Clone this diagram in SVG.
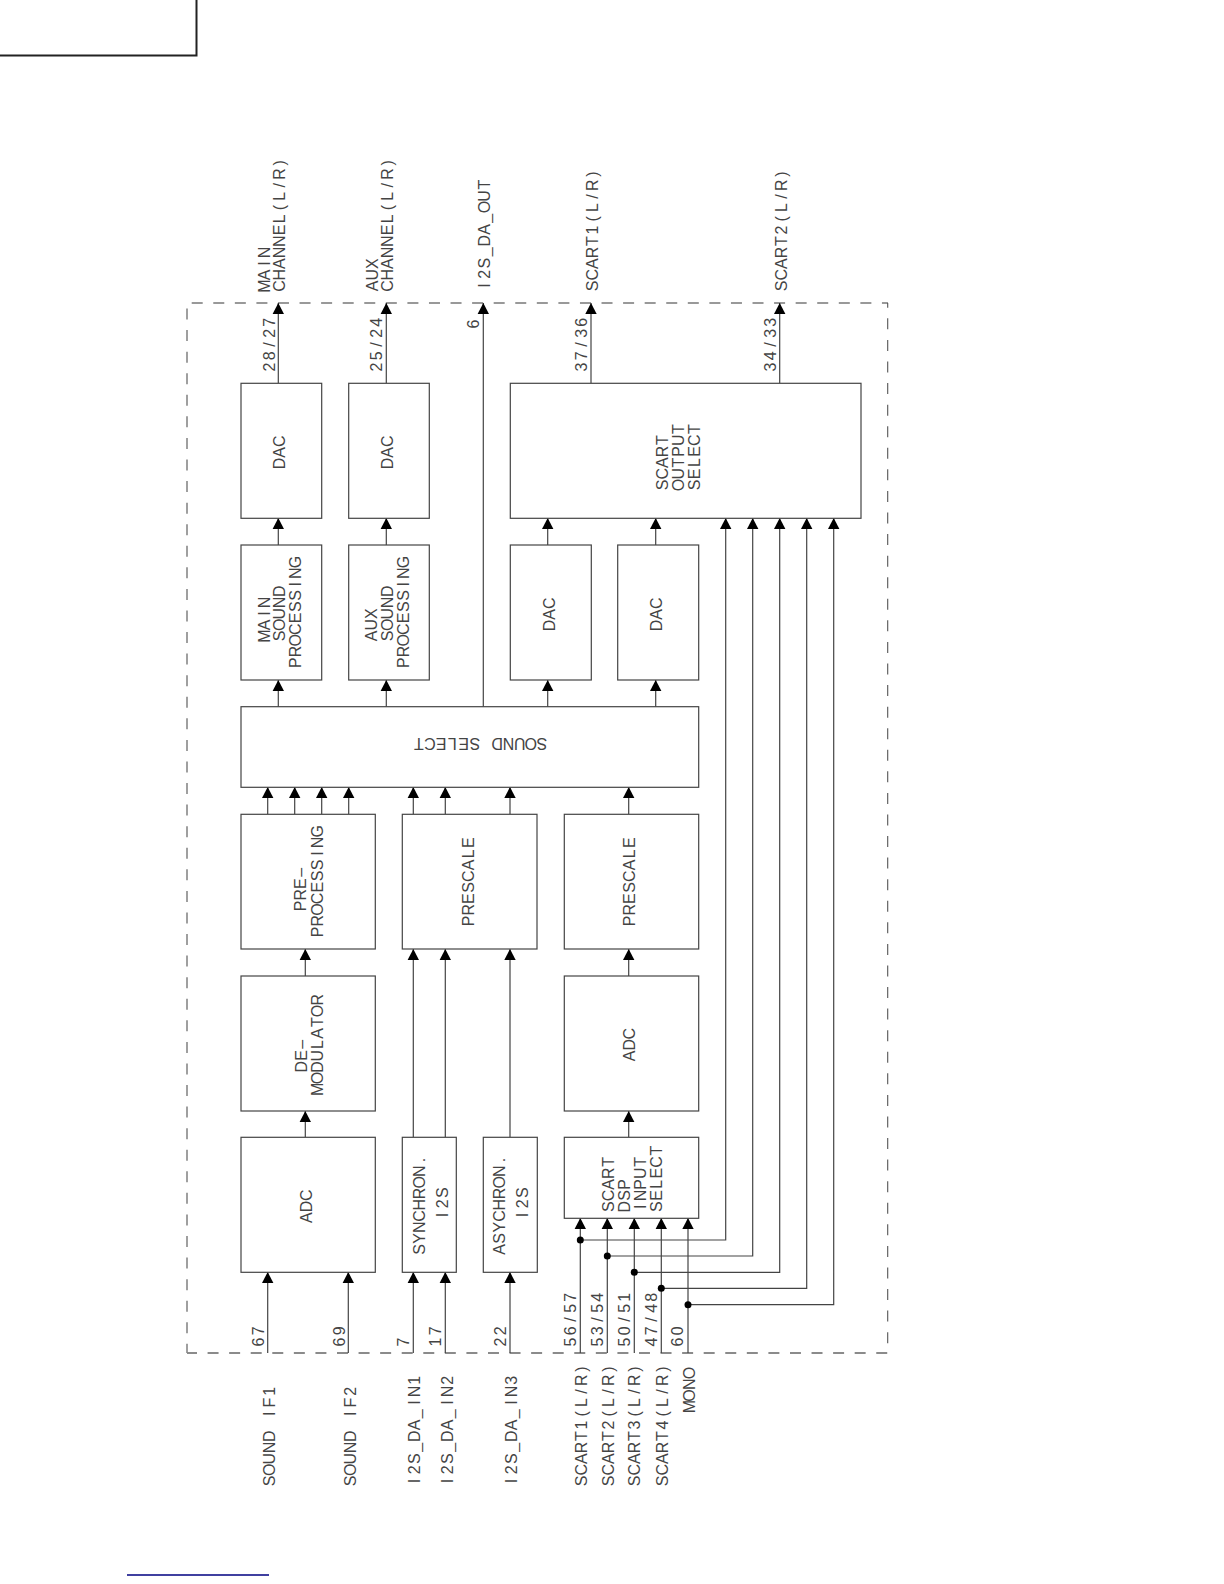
<svg xmlns="http://www.w3.org/2000/svg" width="1224" height="1584" viewBox="0 0 1224 1584">
<defs>
<style>
.b{fill:#fff;stroke:#444;stroke-width:1.2}
.c{fill:none;stroke:#444;stroke-width:1.2}
.t{font-family:"Liberation Sans",Arial,sans-serif;font-size:16px;text-anchor:middle;fill:#444}
.d{fill:#000;stroke:none}
</style>
<path id="ah" d="M0 0L5.700 11H-5.700Z" fill="#000"/>
</defs>
<rect width="1224" height="1584" fill="#fff"/>
<path d="M0 55.500H196.500V0" fill="none" stroke="#222" stroke-width="2"/>
<path d="M127 1575H269" fill="none" stroke="#000080" stroke-width="1.300"/>
<g id="boundary" fill="none" stroke-dasharray="11 10.570">
<path d="M191.700 303H888" stroke="#999" stroke-width="2"/>
<path d="M887.700 303V1353" stroke="#555" stroke-width="1.100" stroke-dashoffset="6.200"/>
<path d="M187 1353H888" stroke="#666" stroke-width="1.300" stroke-dashoffset="1"/>
<path d="M187 308.500V1353" stroke="#888" stroke-width="1.600"/>
</g>
<g id="connectors" class="c">
<path d="M278.300 383V303M386.300 383V303M483.300 707V303M591 383V303M779.700 383V303"/>
<path d="M278.300 545V518M386.300 545V518M547.700 545V518M655.700 545V518"/>
<path d="M278.300 707V680M386.300 707V680M547.700 707V680M655.700 707V680"/>
<path d="M267.700 814V787M294.700 814V787M321.700 814V787M348.700 814V787M413.300 814V787M445.300 814V787M510 814V787M628.700 814V787"/>
<path d="M305.300 976V949M628.700 976V949M305.300 1137V1111M628.700 1137V1111"/>
<path d="M413.300 1137V949M445.300 1137V949M510 1137V949"/>
<path d="M267.700 1353V1272M348.300 1353V1272M413.300 1353V1272M445.300 1353V1272M510 1353V1272"/>
<path d="M580.300 1353V1218M607.300 1353V1218M634.300 1353V1218M661.300 1353V1218M688 1353V1218"/>
<path d="M580.300 1240H725.700V518M607.300 1256H752.700V518M634.300 1272.300H779.700V518M661.300 1288.300H806.700V518M688 1304.700H833.700V518"/>
<circle class="d" cx="580.300" cy="1240" r="3.500"/><circle class="d" cx="607.300" cy="1256" r="3.500"/><circle class="d" cx="634.300" cy="1272.300" r="3.500"/><circle class="d" cx="661.300" cy="1288.300" r="3.500"/><circle class="d" cx="688" cy="1304.700" r="3.500"/>
<g stroke="none">
<use href="#ah" x="278.300" y="303"/><use href="#ah" x="386.300" y="303"/><use href="#ah" x="483.300" y="303"/><use href="#ah" x="591" y="303"/><use href="#ah" x="779.700" y="303"/>
<use href="#ah" x="278.300" y="518"/><use href="#ah" x="386.300" y="518"/><use href="#ah" x="547.700" y="518"/><use href="#ah" x="655.700" y="518"/>
<use href="#ah" x="725.700" y="518"/><use href="#ah" x="752.700" y="518"/><use href="#ah" x="779.700" y="518"/><use href="#ah" x="806.700" y="518"/><use href="#ah" x="833.700" y="518"/>
<use href="#ah" x="278.300" y="680"/><use href="#ah" x="386.300" y="680"/><use href="#ah" x="547.700" y="680"/><use href="#ah" x="655.700" y="680"/>
<use href="#ah" x="267.700" y="787"/><use href="#ah" x="294.700" y="787"/><use href="#ah" x="321.700" y="787"/><use href="#ah" x="348.700" y="787"/><use href="#ah" x="413.300" y="787"/><use href="#ah" x="445.300" y="787"/><use href="#ah" x="510" y="787"/><use href="#ah" x="628.700" y="787"/>
<use href="#ah" x="305.300" y="949"/><use href="#ah" x="413.300" y="949"/><use href="#ah" x="445.300" y="949"/><use href="#ah" x="510" y="949"/><use href="#ah" x="628.700" y="949"/>
<use href="#ah" x="305.300" y="1111"/><use href="#ah" x="628.700" y="1111"/>
<use href="#ah" x="267.700" y="1272"/><use href="#ah" x="348.300" y="1272"/><use href="#ah" x="413.300" y="1272"/><use href="#ah" x="445.300" y="1272"/><use href="#ah" x="510" y="1272"/>
<use href="#ah" x="580.300" y="1218"/><use href="#ah" x="607.300" y="1218"/><use href="#ah" x="634.300" y="1218"/><use href="#ah" x="661.300" y="1218"/><use href="#ah" x="688" y="1218"/>
</g>
</g>
<g id="dac-main"><rect class="b" x="241" y="383.300" width="80.700" height="135"/><text class="t" x="5 16.200 27.400" transform="translate(285 468.500) rotate(-90)">DAC</text></g>
<g id="dac-aux"><rect class="b" x="348.700" y="383.300" width="80.600" height="135"/><text class="t" x="5 16.200 27.400" transform="translate(392.800 468.500) rotate(-90)">DAC</text></g>
<g id="scart-output"><rect class="b" x="510.300" y="383.300" width="350.700" height="135"/><text class="t" x="5 16.200 27.400 38.600 49.800" transform="translate(667.500 490) rotate(-90)">SCART</text><text class="t" x="5 16.200 27.400 38.600 49.800 61" transform="translate(683.700 490) rotate(-90)">OUTPUT</text><text class="t" x="5 16.200 27.400 38.600 49.800 61" transform="translate(699.700 490) rotate(-90)">SELECT</text></g>
<g id="main-sound"><rect class="b" x="241" y="545" width="80.700" height="135"/><text class="t" x="5 16.200 27.400 38.600" transform="translate(269.500 641) rotate(-90)">MAIN</text><text class="t" x="5 16.200 27.400 38.600 49.800" transform="translate(285 641) rotate(-90)">SOUND</text><text class="t" x="5 16.200 27.400 38.600 49.800 61 72.200 83.400 94.600 105.800" transform="translate(301 667.700) rotate(-90)">PROCESSING</text></g>
<g id="aux-sound"><rect class="b" x="348.700" y="545" width="80.600" height="135"/><text class="t" x="5 16.200 27.400" transform="translate(377 641) rotate(-90)">AUX</text><text class="t" x="5 16.200 27.400 38.600 49.800" transform="translate(392.500 641) rotate(-90)">SOUND</text><text class="t" x="5 16.200 27.400 38.600 49.800 61 72.200 83.400 94.600 105.800" transform="translate(409 667.700) rotate(-90)">PROCESSING</text></g>
<g id="dac-3"><rect class="b" x="510.300" y="545" width="81" height="135"/><text class="t" x="5 16.200 27.400" transform="translate(554.500 630.500) rotate(-90)">DAC</text></g>
<g id="dac-4"><rect class="b" x="617.700" y="545" width="81" height="135"/><text class="t" x="5 16.200 27.400" transform="translate(662 630.500) rotate(-90)">DAC</text></g>
<g id="sound-select"><rect class="b" x="241" y="706.700" width="457.700" height="80.600"/><text class="t" x="5 16.200 27.400 38.600 49.800 61 72.200 83.400 94.600 105.800 117 128.200" transform="translate(547 738.300) rotate(180)">SOUND SELECT</text></g>
<g id="preprocessing"><rect class="b" x="241" y="814.300" width="134.300" height="134.700"/><text class="t" x="5 16.200 27.400 38.600" transform="translate(306 911) rotate(-90)">PRE–</text><text class="t" x="5 16.200 27.400 38.600 49.800 61 72.200 83.400 94.600 105.800" transform="translate(322.500 937) rotate(-90)">PROCESSING</text></g>
<g id="prescale-1"><rect class="b" x="402.300" y="814.300" width="134.700" height="134.700"/><text class="t" x="5 16.200 27.400 38.600 49.800 61 72.200 83.400" transform="translate(473.500 926) rotate(-90)">PRESCALE</text></g>
<g id="prescale-2"><rect class="b" x="564.300" y="814.300" width="134.400" height="134.700"/><text class="t" x="5 16.200 27.400 38.600 49.800 61 72.200 83.400" transform="translate(635 926) rotate(-90)">PRESCALE</text></g>
<g id="demodulator"><rect class="b" x="241" y="976" width="134.300" height="135"/><text class="t" x="5 16.200 27.400" transform="translate(306.700 1071.700) rotate(-90)">DE–</text><text class="t" x="5 16.200 27.400 38.600 49.800 61 72.200 83.400 94.600" transform="translate(322.700 1094.300) rotate(-90)">MODULATOR</text></g>
<g id="adc-2"><rect class="b" x="564.300" y="976" width="134.400" height="135"/><text class="t" x="5 16.200 27.400" transform="translate(635 1061) rotate(-90)">ADC</text></g>
<g id="adc-1"><rect class="b" x="241" y="1137.300" width="134.300" height="135"/><text class="t" x="5 16.200 27.400" transform="translate(312.300 1222.700) rotate(-90)">ADC</text></g>
<g id="synchron"><rect class="b" x="402.300" y="1137.300" width="54" height="135"/><text class="t" x="5 16.200 27.400 38.600 49.800 61 72.200 83.400 94.600" transform="translate(425 1254.500) rotate(-90)">SYNCHRON.</text><text class="t" x="5 16.200 27.400" transform="translate(447.500 1220) rotate(-90)">I2S</text></g>
<g id="asychron"><rect class="b" x="483.300" y="1137.300" width="54" height="135"/><text class="t" x="5 16.200 27.400 38.600 49.800 61 72.200 83.400 94.600" transform="translate(505 1254.500) rotate(-90)">ASYCHRON.</text><text class="t" x="5 16.200 27.400" transform="translate(527.700 1220) rotate(-90)">I2S</text></g>
<g id="scart-dsp"><rect class="b" x="564.300" y="1137.300" width="134.400" height="81"/><text class="t" x="5 16.200 27.400 38.600 49.800" transform="translate(613.500 1211.700) rotate(-90)">SCART</text><text class="t" x="5 16.200 27.400" transform="translate(630 1211.700) rotate(-90)">DSP</text><text class="t" x="5 16.200 27.400 38.600 49.800" transform="translate(645.700 1211.700) rotate(-90)">INPUT</text><text class="t" x="5 16.200 27.400 38.600 49.800 61" transform="translate(662 1211.700) rotate(-90)">SELECT</text></g>
<g id="labels">
<text class="t" x="5 16.200 27.400 38.600" transform="translate(269.500 291) rotate(-90)">MAIN</text>
<text class="t" x="5 16.200 27.400 38.600 49.800 61 72.200 83.400 94.600 105.800 117 128.200" transform="translate(285 291) rotate(-90)">CHANNEL(L/R)</text>
<text class="t" x="5 16.200 27.400" transform="translate(377.500 291) rotate(-90)">AUX</text>
<text class="t" x="5 16.200 27.400 38.600 49.800 61 72.200 83.400 94.600 105.800 117 128.200" transform="translate(393 291) rotate(-90)">CHANNEL(L/R)</text>
<text class="t" x="5 16.200 27.400 38.600 49.800 61 72.200 83.400 94.600 105.800" transform="translate(489.500 290.500) rotate(-90)">I2S_DA_OUT</text>
<text class="t" x="5 16.200 27.400 38.600 49.800 61 72.200 83.400 94.600 105.800 117" transform="translate(597.500 291) rotate(-90)">SCART1(L/R)</text>
<text class="t" x="5 16.200 27.400 38.600 49.800 61 72.200 83.400 94.600 105.800 117" transform="translate(786.700 291) rotate(-90)">SCART2(L/R)</text>
<text class="t" x="5 16.200 27.400 38.600 49.800" transform="translate(274.500 372) rotate(-90)">28/27</text>
<text class="t" x="5 16.200 27.400 38.600 49.800" transform="translate(382 372) rotate(-90)">25/24</text>
<text class="t" x="5" transform="translate(478.500 329) rotate(-90)">6</text>
<text class="t" x="5 16.200 27.400 38.600 49.800" transform="translate(587 372) rotate(-90)">37/36</text>
<text class="t" x="5 16.200 27.400 38.600 49.800" transform="translate(775.700 372) rotate(-90)">34/33</text>
<text class="t" x="5 16.200" transform="translate(263.500 1347) rotate(-90)">67</text>
<text class="t" x="5 16.200" transform="translate(344.500 1347) rotate(-90)">69</text>
<text class="t" x="5" transform="translate(408.500 1347) rotate(-90)">7</text>
<text class="t" x="5 16.200" transform="translate(441 1347) rotate(-90)">17</text>
<text class="t" x="5 16.200" transform="translate(506 1347) rotate(-90)">22</text>
<text class="t" x="5 16.200 27.400 38.600 49.800" transform="translate(576 1347) rotate(-90)">56/57</text>
<text class="t" x="5 16.200 27.400 38.600 49.800" transform="translate(602.700 1347) rotate(-90)">53/54</text>
<text class="t" x="5 16.200 27.400 38.600 49.800" transform="translate(630 1347) rotate(-90)">50/51</text>
<text class="t" x="5 16.200 27.400 38.600 49.800" transform="translate(657 1347) rotate(-90)">47/48</text>
<text class="t" x="5 16.200" transform="translate(683.300 1347) rotate(-90)">60</text>
<text class="t" x="5 16.200 27.400 38.600 49.800 61 72.200 83.400 94.600" transform="translate(274.500 1486) rotate(-90)">SOUND IF1</text>
<text class="t" x="5 16.200 27.400 38.600 49.800 61 72.200 83.400 94.600" transform="translate(355.500 1486) rotate(-90)">SOUND IF2</text>
<text class="t" x="5 16.200 27.400 38.600 49.800 61 72.200 83.400 94.600 105.800" transform="translate(420 1486) rotate(-90)">I2S_DA_IN1</text>
<text class="t" x="5 16.200 27.400 38.600 49.800 61 72.200 83.400 94.600 105.800" transform="translate(453 1486) rotate(-90)">I2S_DA_IN2</text>
<text class="t" x="5 16.200 27.400 38.600 49.800 61 72.200 83.400 94.600 105.800" transform="translate(517 1486) rotate(-90)">I2S_DA_IN3</text>
<text class="t" x="5 16.200 27.400 38.600 49.800 61 72.200 83.400 94.600 105.800 117" transform="translate(587 1486) rotate(-90)">SCART1(L/R)</text>
<text class="t" x="5 16.200 27.400 38.600 49.800 61 72.200 83.400 94.600 105.800 117" transform="translate(613.700 1486) rotate(-90)">SCART2(L/R)</text>
<text class="t" x="5 16.200 27.400 38.600 49.800 61 72.200 83.400 94.600 105.800 117" transform="translate(640.300 1486) rotate(-90)">SCART3(L/R)</text>
<text class="t" x="5 16.200 27.400 38.600 49.800 61 72.200 83.400 94.600 105.800 117" transform="translate(667.700 1486) rotate(-90)">SCART4(L/R)</text>
<text class="t" x="5 16.200 27.400 38.600" transform="translate(695 1411.700) rotate(-90)">MONO</text>
</g>
</svg>
